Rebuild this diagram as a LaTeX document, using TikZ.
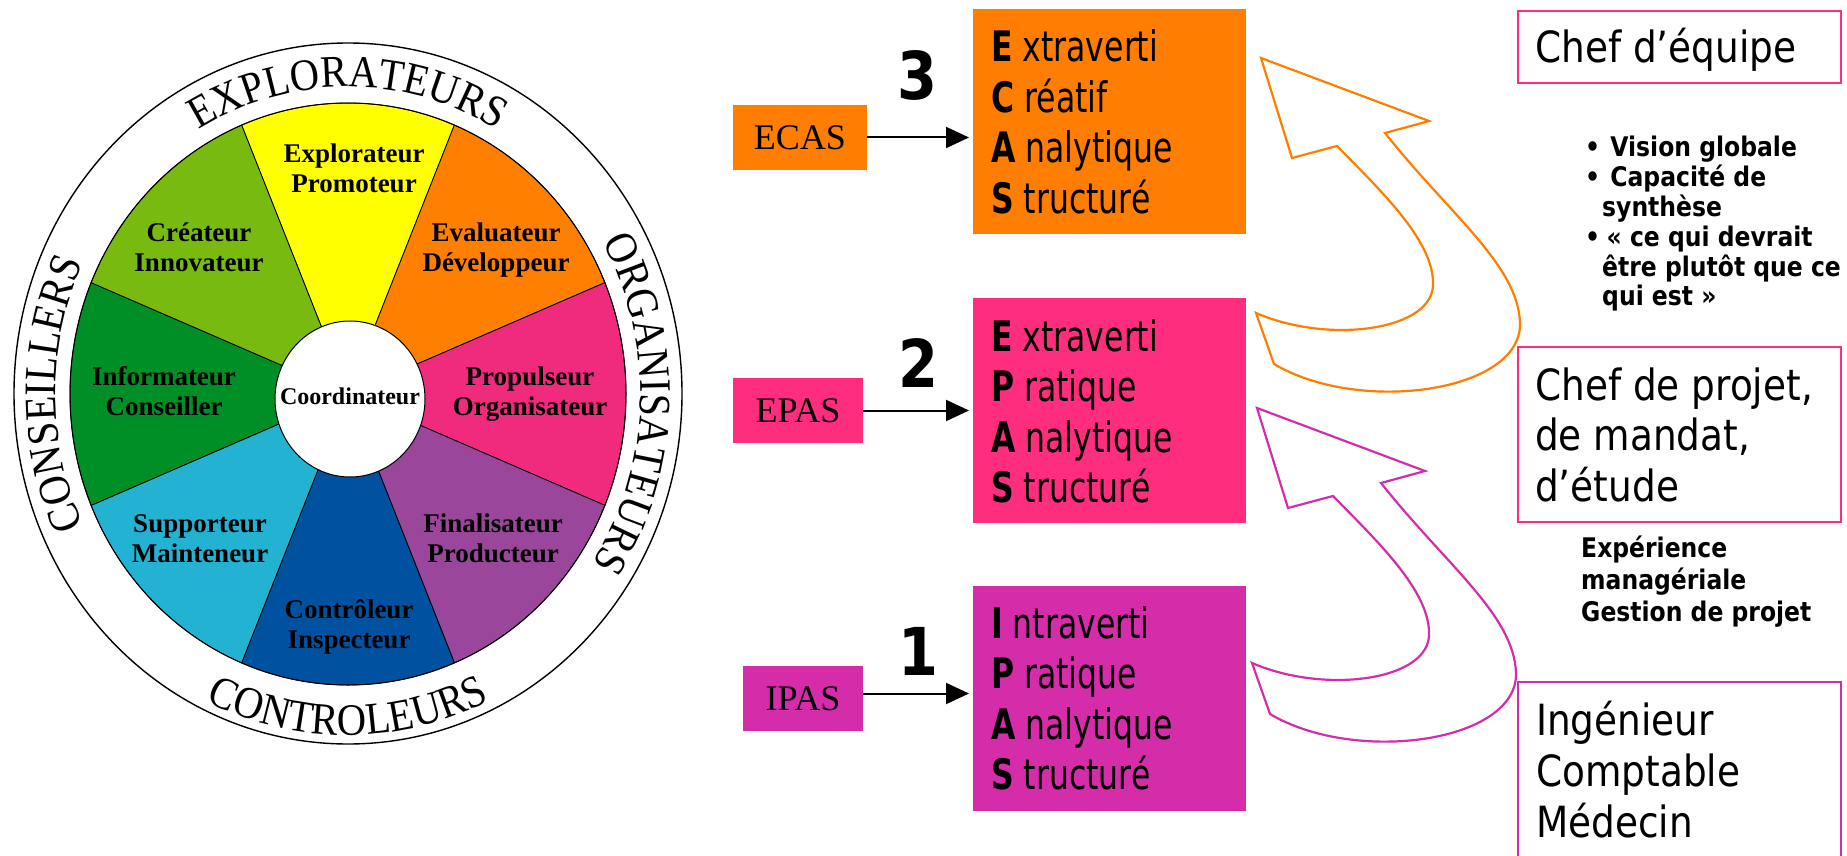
\documentclass[tikz,border=0pt]{standalone}
\usepackage{fontspec}
\setmainfont{Liberation Serif}
\newfontfamily\sansw[FakeStretch=0.87]{DejaVu Sans}
\newfontfamily\sansn[FakeStretch=0.75]{DejaVu Sans}
\newfontfamily\rimserif[FakeStretch=0.9]{Liberation Serif}
\usetikzlibrary{arrows.meta,decorations.text}

% wheel colours
\definecolor{wYellow}{RGB}{255,255,0}
\definecolor{wOrange}{RGB}{255,128,0}
\definecolor{wPink}{RGB}{240,42,125}
\definecolor{wPurple}{RGB}{153,70,155}
\definecolor{wBlue}{RGB}{0,82,160}
\definecolor{wCyan}{RGB}{36,178,210}
\definecolor{wDkGreen}{RGB}{0,142,38}
\definecolor{wLtGreen}{RGB}{120,186,15}
% profile colours
\definecolor{pOrange}{RGB}{255,125,0}
\definecolor{pPink}{RGB}{255,45,125}
\definecolor{pMagenta}{RGB}{213,44,169}

% fixed baseline-to-baseline stacks of lines (rows separated by \cr)
\newcommand\leftlines[2]{\vtop{\baselineskip=#1\relax\lineskiplimit=-\maxdimen\halign{##\hfil\cr#2\crcr}}}
\newcommand\centerlines[2]{\vtop{\baselineskip=#1\relax\lineskiplimit=-\maxdimen\halign{\hfil##\hfil\cr#2\crcr}}}

\tikzset{
  sectorlabel/.style={anchor=base, inner sep=0pt, font=\bfseries\fontsize{27}{30}\selectfont},
  rimtext/.style={decorate, decoration={text along path, text align=center,
      text={|\rimserif\fontsize{45}{45}\selectfont|#1}}},
  smallbox/.style={anchor=north west, minimum height=65pt, inner sep=0pt, outer sep=0pt,
      font=\fontsize{36}{36}\selectfont},
  bigbox/.style={anchor=north west, minimum width=273pt, minimum height=225pt, inner sep=0pt, outer sep=0pt},
  boxtext/.style={anchor=base west, inner sep=0pt, font=\sansn\fontsize{42}{50.5}\selectfont},
  digit/.style={anchor=base, inner sep=0pt, font=\sansw\bfseries\fontsize{66}{66}\selectfont},
  link/.style={-{Triangle[length=23pt,width=21pt]}, line width=2pt, shorten >=4pt},
  rolebox/.style={draw, line width=2.8pt, anchor=north west, minimum width=323pt, inner sep=0pt, outer sep=0pt},
  roletext/.style={anchor=base west, inner sep=0pt, font=\sansw\fontsize{43}{50.5}\selectfont},
  notes/.style={anchor=base west, inner sep=0pt, font=\sansw\bfseries\fontsize{27}{30}\selectfont},
  uturn/.pic={
    \draw[pic actions, line width=2.2pt, line join=miter]
      (1261,58) -- (1429,121) -- (1385,133)
      .. controls (1450,215) and (1518,265) .. (1520,323)
      .. controls (1522,392) and (1360,415) .. (1274,364)
      -- (1256,313)
      .. controls (1330,345) and (1435,330) .. (1433,283)
      .. controls (1433,240) and (1380,190) .. (1337,146)
      -- (1292,158) -- cycle;
  }
}

\begin{document}
\begin{tikzpicture}[x=1pt, y=-1pt]
\useasboundingbox (0,0) rectangle (1847,856);

% ---------- team-role wheel ----------
\draw[line width=1.4pt, fill=white] (348,393.5) ellipse[x radius=334, y radius=350.5];
\foreach \ang/\col in {-90/wYellow,-45/wOrange,0/wPink,45/wPurple,90/wBlue,135/wCyan,180/wDkGreen,225/wLtGreen}
  \filldraw[fill=\col, draw=black, line width=0.8pt, shift={(348,394)}]
    (0,0) -- (\ang-22.5:278 and 291)
    arc[start angle=\ang-22.5, end angle=\ang+22.5, x radius=278, y radius=291] -- cycle;
\draw[line width=1pt] (348,394) ellipse[x radius=278, y radius=291];
\draw[line width=1pt, fill=white] (350,399) ellipse[x radius=75, y radius=78];

\node[sectorlabel] (explo) at (354,162) {\centerlines{30pt}{Explorateur\cr Promoteur}};
\node[sectorlabel] (evalu) at (496,241) {\centerlines{30pt}{Evaluateur\cr Développeur}};
\node[sectorlabel] (propu) at (530,385) {\centerlines{30pt}{Propulseur\cr Organisateur}};
\node[sectorlabel] (final) at (493,532) {\centerlines{30pt}{Finalisateur\cr Producteur}};
\node[sectorlabel] (contr) at (349,618) {\centerlines{30pt}{Contrôleur\cr Inspecteur}};
\node[sectorlabel] (suppo) at (200,532) {\centerlines{30pt}{Supporteur\cr Mainteneur}};
\node[sectorlabel] (infor) at (164,385) {\centerlines{30pt}{Informateur\cr Conseiller}};
\node[sectorlabel] (creat) at (199,241) {\centerlines{30pt}{Créateur\cr Innovateur}};
\node[anchor=base, inner sep=0pt, font=\bfseries\fontsize{24}{24}\selectfont] (coord) at (350,404) {Coordinateur};

% family names around the rim
\path[rimtext=EXPLORATEURS, shift={(348,394)}]
  (-150:292.5 and 307) arc[start angle=-150, end angle=-30, x radius=292.5, y radius=307];
\path[rimtext=ORGANISATEURS, shift={(348,394)}]
  (-40:292.5 and 307) arc[start angle=-40, end angle=44, x radius=292.5, y radius=307];
\path[rimtext=CONSEILLERS, shift={(348,394)}]
  (140:292.5 and 307) arc[start angle=140, end angle=220, x radius=292.5, y radius=307];
\path[rimtext=CONTROLEURS, shift={(348,394)}]
  (130:325 and 341) arc[start angle=130, end angle=50, x radius=325, y radius=341];

% ---------- profiles ----------
\node[smallbox, fill=pOrange, minimum width=134pt] (ecas) at (733,105) {ECAS};
\node[smallbox, fill=pPink, minimum width=130pt] (epas) at (733,378) {EPAS};
\node[smallbox, fill=pMagenta, minimum width=120pt] (ipas) at (743,666) {IPAS};

\node[bigbox, fill=pOrange] (ecasbig) at (973,9) {};
\node[bigbox, fill=pPink] (epasbig) at (973,298) {};
\node[bigbox, fill=pMagenta] (ipasbig) at (973,586) {};

\node[boxtext] (ecastxt) at (991,62) {\leftlines{50.5pt}{{\bfseries E} xtraverti\cr {\bfseries C} réatif\cr {\bfseries A} nalytique\cr {\bfseries S} tructuré}};
\node[boxtext] (epastxt) at (991,351) {\leftlines{50.5pt}{{\bfseries E} xtraverti\cr {\bfseries P} ratique\cr {\bfseries A} nalytique\cr {\bfseries S} tructuré}};
\node[boxtext] (ipastxt) at (991,638) {\leftlines{50.5pt}{{\bfseries I} ntraverti\cr {\bfseries P} ratique\cr {\bfseries A} nalytique\cr {\bfseries S} tructuré}};

\draw[link] (ecas.east) -- (ecas.east -| ecasbig.west);
\draw[link] (epas.east) -- (epas.east -| epasbig.west);
\draw[link] ([yshift=5pt]ipas.east) -- ([yshift=5pt]ipas.east -| ipasbig.west);

\node[digit] (n3) at (917,100) {3};
\node[digit] (n2) at (918,387) {2};
\node[digit] (n1) at (918,675) {1};

% ---------- career path ----------
\pic[draw=pOrange] {uturn};
\pic[draw=pMagenta] at (-4,350) {uturn};

\node[rolebox, draw=pPink, minimum height=72pt] (chefeq) at (1518,11) {};
\node[rolebox, draw=pPink, minimum height=175pt] (chefpr) at (1518,347) {};
\node[rolebox, draw=pMagenta, minimum height=200pt] (inge) at (1518,682) {};

\node[roletext] (chefeqtxt) at (1535,63) {Chef d’équipe};
\node[roletext] (chefprtxt) at (1535,400) {\leftlines{50.5pt}{Chef de projet,\cr de mandat,\cr d’étude}};
\node[roletext] (ingetxt) at (1536,735) {\leftlines{51pt}{Ingénieur\cr Comptable\cr Médecin}};

\node[notes] (vision) at (1585,157) {\leftlines{29.8pt}{%
  \makebox[17pt][l]{•}~Vision globale\cr
  \makebox[17pt][l]{•}~Capacité de\cr
  \hspace*{17pt}synthèse\cr
  \makebox[17pt][l]{•}\,« ce qui devrait\cr
  \hspace*{17pt}être plutôt que ce\cr
  \hspace*{17pt}qui est »}};
\node[notes] (experience) at (1581,557) {\leftlines{32pt}{Expérience\cr managériale\cr Gestion de projet}};
\end{tikzpicture}
\end{document}
